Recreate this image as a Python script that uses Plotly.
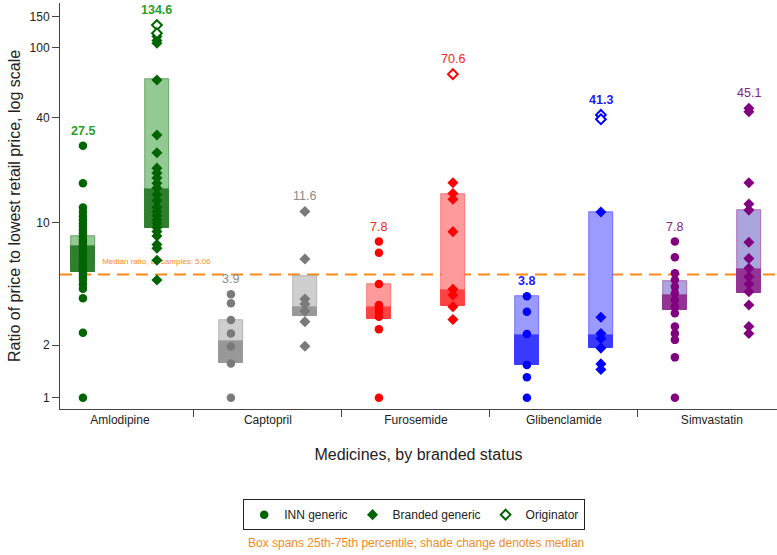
import math
import plotly.graph_objects as go

# ---------------- data ----------------
medicines = ["Amlodipine", "Captopril", "Furosemide", "Glibenclamide", "Simvastatin"]

amlodipine_inn = [27.5, 16.8, 12.2, 11.5, 10.9, 10.4, 9.9, 9.5, 9.1, 8.7, 8.3, 8.0, 7.7, 7.4,
                  7.1, 6.8, 6.5, 6.2, 5.9, 5.7, 5.5, 5.3, 5.1, 4.9, 4.7, 4.45, 4.2, 3.7, 2.35, 1.0]
amlodipine_branded = [116, 110, 106, 65.4, 31.7, 25.1, 20.5, 19.2, 18.0, 16.8, 15.8, 14.5, 13.4,
                      12.3, 11.6, 11.0, 10.4, 9.9, 9.4, 8.9, 8.4, 7.5, 7.15, 6.1, 4.71]
amlodipine_originator = [134.6, 121]

captopril_inn = [3.9, 3.46, 2.78, 2.33, 1.96, 1.57, 1.0]
captopril_branded = [11.6, 6.2, 3.66, 3.43, 3.13, 2.72, 1.97]
captopril_originator = []

furosemide_inn = [7.8, 6.74, 4.46, 3.39, 3.25, 3.1, 2.90, 2.46, 1.0]
furosemide_branded = [16.9, 14.7, 13.6, 8.89, 4.16, 3.86, 3.31, 2.80]
furosemide_originator = [70.6]

glibenclamide_inn = [3.8, 3.10, 2.31, 1.54, 1.31, 1.0]
glibenclamide_branded = [11.5, 2.88, 2.33, 2.18, 1.92, 1.56, 1.45]
glibenclamide_originator = [41.3, 39.0]

simvastatin_inn = [7.8, 6.34, 5.14, 4.71, 4.31, 3.95, 3.61, 3.31, 3.04, 2.55, 2.33, 2.14, 1.70, 1.0]
simvastatin_branded = [45.1, 43.0, 16.9, 12.8, 11.8, 7.73, 6.25, 5.49, 4.91, 4.46, 4.03, 3.39, 2.55, 2.33]
simvastatin_originator = []

# quartiles (25th, median, 75th)
inn_q1 = [5.25, 1.585, 2.80, 1.54, 3.17]
inn_median = [7.36, 2.12, 3.31, 2.28, 3.86]
inn_q3 = [8.4, 2.78, 4.44, 3.83, 4.66]
branded_q1 = [9.29, 2.93, 3.34, 1.93, 3.95]
branded_median = [15.6, 3.29, 4.12, 2.28, 5.44]
branded_q3 = [66.2, 4.96, 14.5, 11.56, 11.8]

median_all = 5.06

y_tick_values = [1, 2, 10, 40, 100, 150]

# ---------------- styling ----------------
point_colors = ["#006400", "#7a7a7a", "#ff0000", "#0000ff", "#800080"]
label_colors = ["#2a9d2a", "#8a8a8a", "#ff2020", "#1a1aff", "#8b1a8b"]
light_box = ["#93c993", "#cfcfcf", "#ff9a9a", "#9a9aff", "#aaa5dd"]
dark_box = ["#2f7f2f", "#989898", "#ff4343", "#3a3aff", "#933393"]
label_bold = [True, False, False, True, False]
ORANGE = "#ff8a1a"
FONT = "Liberation Sans, Arial, Helvetica, sans-serif"

inn_lists = [amlodipine_inn, captopril_inn, furosemide_inn, glibenclamide_inn, simvastatin_inn]
branded_lists = [amlodipine_branded, captopril_branded, furosemide_branded,
                 glibenclamide_branded, simvastatin_branded]
orig_lists = [amlodipine_originator, captopril_originator, furosemide_originator,
              glibenclamide_originator, simvastatin_originator]

inn_x = [2 * i + 0.5 for i in range(len(medicines))]
br_x = [2 * i + 1.5 for i in range(len(medicines))]
BOX_W = 0.324
X_RANGE = [0.19, 9.88]
Y_RANGE = [-0.0646, 2.2554]

fig = go.Figure()

# boxes
for xs, q1, med, q3 in [(inn_x, inn_q1, inn_median, inn_q3), (br_x, branded_q1, branded_median, branded_q3)]:
    fig.add_trace(go.Bar(x=xs, base=q1, y=[m - a for m, a in zip(med, q1)], width=BOX_W,
                         marker=dict(color=dark_box, line=dict(color=dark_box, width=1)),
                         showlegend=False, hoverinfo="skip"))
    fig.add_trace(go.Bar(x=xs, base=med, y=[b - m for b, m in zip(q3, med)], width=BOX_W,
                         marker=dict(color=light_box, line=dict(color=dark_box, width=0.6)),
                         showlegend=False, hoverinfo="skip"))

# median label (under the points)
fig.add_trace(go.Scatter(x=[0.76], y=[median_all * 10 ** (12.5 / 175)], mode="text",
                         text=[f"Median ratio, all samples: {median_all:.2f}"],
                         textposition="middle right",
                         textfont=dict(size=8, color=ORANGE, family=FONT),
                         showlegend=False, hoverinfo="skip"))

# points
for i, med in enumerate(medicines):
    c = point_colors[i]
    fig.add_trace(go.Scatter(x=[inn_x[i]] * len(inn_lists[i]), y=inn_lists[i], mode="markers",
                             marker=dict(symbol="circle", size=8.5, color=c),
                             name="INN generic", legendgroup="inn", showlegend=(i == 0)))
    fig.add_trace(go.Scatter(x=[br_x[i]] * len(branded_lists[i]), y=branded_lists[i], mode="markers",
                             marker=dict(symbol="diamond", size=8.5, color=c),
                             name="Branded generic", legendgroup="br", showlegend=(i == 0)))
    fig.add_trace(go.Scatter(x=[br_x[i]] * len(orig_lists[i]), y=orig_lists[i], mode="markers",
                             marker=dict(symbol="diamond", size=7.5, color="white",
                                         line=dict(color=c, width=2)),
                             name="Originator", legendgroup="orig", showlegend=(i == 0)))

# max labels
for i in range(len(medicines)):
    for x, vals in [(inn_x[i], inn_lists[i]), (br_x[i], branded_lists[i] + orig_lists[i])]:
        m = max(vals)
        txt = f"<b>{m:.1f}</b>" if label_bold[i] else f"{m:.1f}"
        fig.add_annotation(x=x, y=math.log10(m), text=txt, showarrow=False, yshift=15,
                           font=dict(size=12.5, color=label_colors[i], family=FONT))

# overall median line
fig.add_hline(y=median_all, line=dict(color=ORANGE, width=2, dash="12px,7px"), layer="below")

fig.add_annotation(xref="paper", yref="paper", x=0.496, y=-0.330, yanchor="middle",
                   text="Box spans 25th-75th percentile; shade change denotes median",
                   showarrow=False, font=dict(size=12, color="#f28a1e", family=FONT))

fig.update_layout(
    width=777, height=555, autosize=False,
    margin=dict(l=60, r=0, t=3, b=146),
    plot_bgcolor="white", paper_bgcolor="white",
    font=dict(family=FONT, color="#222", size=12),
    barmode="overlay", bargap=0,
    legend=dict(orientation="h", x=0.494, xanchor="center", y=-0.222, yanchor="top",
                bordercolor="#222", borderwidth=1, bgcolor="white",
                font=dict(size=12, color="#222"), traceorder="normal"),
    xaxis=dict(range=X_RANGE, tickmode="array", tickvals=[2 * i + 1 for i in range(len(medicines))],
               ticktext=medicines, ticks="", showline=True, linecolor="#444", linewidth=1,
               showgrid=False, zeroline=False, tickfont=dict(size=12, color="#222"),
               minor=dict(tickmode="array", tickvals=[2, 4, 6, 8], ticks="outside",
                          ticklen=7, tickcolor="#444", showgrid=False),
               title=dict(text="Medicines, by branded status", font=dict(size=16, color="#222"),
                          standoff=22)),
    yaxis=dict(type="log", range=Y_RANGE, tickmode="array", tickvals=y_tick_values,
               ticktext=[str(v) for v in y_tick_values], ticks="outside", ticklen=7,
               tickcolor="#444", showline=True, linecolor="#444", linewidth=1,
               showgrid=False, zeroline=False, tickfont=dict(size=12, color="#222"),
               title=dict(text="Ratio of price to lowest retail price, log scale",
                          font=dict(size=16, color="#222"), standoff=4)),
)

fig.write_html("out.html", config={"displayModeBar": False},
               post_script="document.body.style.margin='0';document.body.style.overflow='hidden';")
